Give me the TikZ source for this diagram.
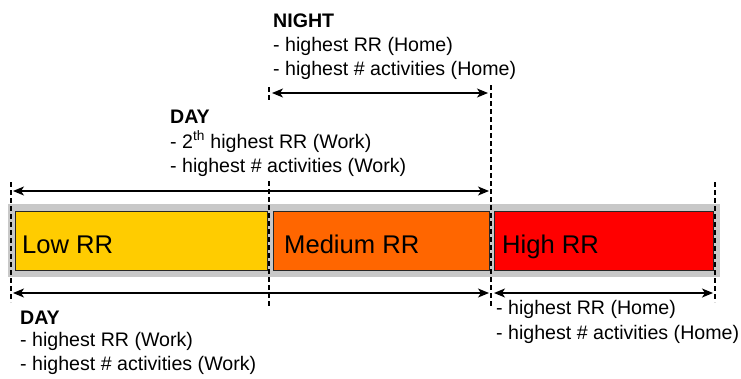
\documentclass[tikz,border=0pt]{standalone}
\usepackage{fontspec}
\setmainfont{Liberation Sans}
\usetikzlibrary{arrows.meta}
\definecolor{lowc}{HTML}{FFCC00}
\definecolor{medc}{HTML}{FF6600}
\definecolor{highc}{HTML}{FF0000}
\definecolor{bandc}{HTML}{C8C8C8}
\begin{document}
\begin{tikzpicture}[x=1pt,y=-1pt,
  rr/.style={draw=black!85, line width=0.9pt, inner sep=0pt, anchor=north west, minimum height=59pt},
  lbl/.style={font=\fontsize{25.6}{30}\selectfont, anchor=base west, inner sep=0pt},
  txt/.style={font=\fontsize{19.6}{24}\selectfont, anchor=base west, inner sep=0pt},
  hd/.style={font=\fontsize{19.6}{24}\selectfont\bfseries, anchor=base west, inner sep=0pt},
  guide/.style={dash pattern=on 5pt off 3pt, line width=1.7pt},
  span/.style={{Stealth[length=11pt,width=9pt,inset=3pt]}-{Stealth[length=11pt,width=9pt,inset=3pt]}, line width=1.6pt}]
\useasboundingbox (0,0) rectangle (741,378);
% band
\fill[bandc] (8,204) rectangle (720,277);
% boxes
\node[rr, fill=lowc, minimum width=252pt] (low) at (15,211) {};
\node[rr, fill=medc, minimum width=216pt] (med) at (272.5,211) {};
\node[rr, fill=highc, minimum width=219pt] (high) at (494,211) {};
\node[lbl] (lowt) at (22,253) {Low RR};
\node[lbl] (medt) at (284,253) {Medium RR};
\node[lbl] (hight) at (502,253) {High RR};
% guides
\coordinate (g1a) at (11,182);  \coordinate (g1b) at (11,302);
\coordinate (g2a) at (269,87);  \coordinate (g2b) at (269,101);
\coordinate (g2c) at (269,181); \coordinate (g2d) at (269,306);
\coordinate (g3a) at (491,85);  \coordinate (g3b) at (491,306);
\coordinate (g4a) at (715,182); \coordinate (g4b) at (715,302);
\draw[guide] (g1a) -- (g1b);
\draw[guide] (g2a) -- (g2b);
\draw[guide] (g2c) -- (g2d);
\draw[guide] (g3a) -- (g3b);
\draw[guide] (g4a) -- (g4b);
% span arrows
\coordinate (n1) at (272,93);  \coordinate (n2) at (488,93);
\coordinate (d1) at (13,191);  \coordinate (d2) at (489,191);
\coordinate (b1) at (13,293);  \coordinate (b2) at (489,293);
\coordinate (h1) at (494,293); \coordinate (h2) at (713,293);
\draw[span] (n1) -- (n2);
\draw[span] (d1) -- (d2);
\draw[span] (b1) -- (b2);
\draw[span] (h1) -- (h2);
% texts
\node[hd]  (nh)  at (273,27) {NIGHT};
\node[txt] (nl1) at (273,51) {- highest RR (Home)};
\node[txt] (nl2) at (273,75) {- highest \# activities (Home)};
\node[hd]  (dh)  at (170,123) {DAY};
\node[txt] (dl1) at (170,148) {- 2\textsuperscript{th} highest RR (Work)};
\node[txt] (dl2) at (170,172) {- highest \# activities (Work)};
\node[hd]  (bh)  at (20,324) {DAY};
\node[txt] (bl1) at (20,346) {- highest RR (Work)};
\node[txt] (bl2) at (20,370) {- highest \# activities (Work)};
\node[txt] (rl1) at (496,314) {- highest RR (Home)};
\node[txt] (rl2) at (496,339) {- highest \# activities (Home)};
\end{tikzpicture}
\end{document}
